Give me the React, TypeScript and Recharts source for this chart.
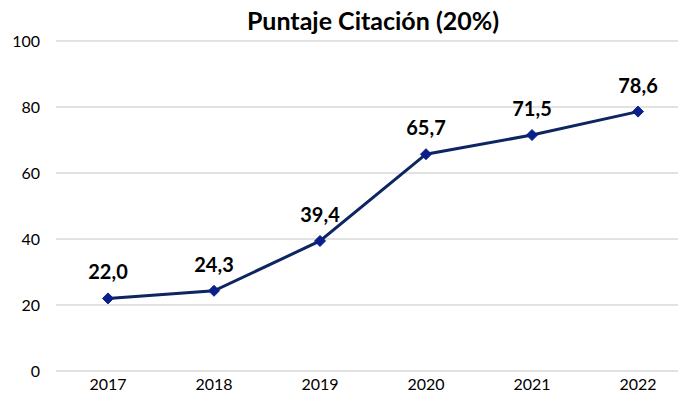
import { LineChart, Line, XAxis, YAxis, CartesianGrid, LabelList } from "recharts";

const years = ["2017", "2018", "2019", "2020", "2021", "2022"];
const scores = [22.0, 24.3, 39.4, 65.7, 71.5, 78.6];
const yTicks = [0, 20, 40, 60, 80, 100];

const data = years.map((year, i) => ({ year, score: scores[i] }));

const font = "Lato, 'Open Sans', sans-serif";

function Diamond(props: any) {
  const { cx, cy, index } = props;
  if (cx == null || cy == null) return null;
  const r = 5.5;
  return (
    <path
      key={`d-${index}`}
      d={`M${cx},${cy - r} L${cx + r},${cy} L${cx},${cy + r} L${cx - r},${cy} Z`}
      fill="#0b1f8a"
      stroke="#0b1f8a"
      strokeWidth={1}
    />
  );
}

export default function App() {
  return (
    <div style={{ position: "absolute", left: 0, top: 0, width: 678, height: 409, overflow: "hidden", background: "#fff" }}>
      <div
        style={{
          position: "absolute",
          left: 0,
          width: 746,
          top: 5,
          textAlign: "center",
          fontFamily: font,
          fontWeight: 700,
          fontSize: 25,
          color: "#000",
        }}
      >
        Puntaje Citación (20%)
      </div>
      <LineChart
        width={700}
        height={409}
        data={data}
        margin={{ top: 41, right: 9, bottom: 8, left: 0 }}
      >
        <CartesianGrid vertical={false} stroke="#d9d9d9" strokeWidth={1.5} />
        <XAxis
          dataKey="year"
          axisLine={false}
          tickLine={false}
          height={30}
          padding={{ left: 52, right: 53 }}
          tick={{ fill: "#000", fontSize: 16, fontFamily: font }}
          tickMargin={2}
        />
        <YAxis
          domain={[0, 100]}
          ticks={yTicks}
          axisLine={false}
          tickLine={false}
          width={56}
          tick={{ fill: "#000", fontSize: 16, fontFamily: font }}
          tickMargin={10}
        />
        <Line
          type="linear"
          dataKey="score"
          stroke="#0d2560"
          strokeWidth={3}
          dot={Diamond}
          activeDot={false}
          isAnimationActive={false}
        >
          <LabelList
            dataKey="score"
            position="top"
            offset={19}
            formatter={(v: any) => Number(v).toFixed(1).replace(".", ",")}
            style={{ fill: "#000", fontSize: 20, fontWeight: 700, fontFamily: font }}
          />
        </Line>
      </LineChart>
    </div>
  );
}
